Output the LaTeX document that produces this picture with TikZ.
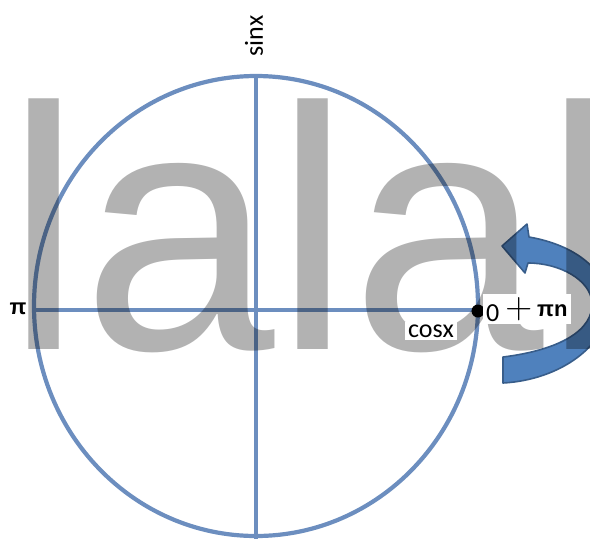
\documentclass[tikz,border=0pt]{standalone}
\usepackage{fontspec}
\usepackage{graphicx}
\setmainfont{Carlito}
\newfontfamily\wmfont{Liberation Sans}
\definecolor{axisblue}{HTML}{6C8EBF}
\definecolor{arrowfill}{HTML}{4F81BD}
\definecolor{arrowline}{HTML}{385D8A}
\usetikzlibrary{positioning}

\begin{document}
\begin{tikzpicture}[x=1pt,y=-1pt,
  axis/.style={draw=axisblue,line width=4.2pt},
  lbl/.style={inner sep=0pt,font=\fontsize{26}{30}\selectfont},
  grk/.style={inner sep=0pt,font=\wmfont\bfseries\fontsize{22}{26}\selectfont},
  wm/.style={inner sep=0pt,anchor=base west,text=black,text opacity=0.3,
    font=\wmfont\fontsize{346}{400}\selectfont}]
  \useasboundingbox (0,0) rectangle (590,539);
  % unit circle with both axes
  \draw[axis] (256,306) ellipse [x radius=222,y radius=230];
  \coordinate (ytop) at (256,76);
  \coordinate (ybot) at (256,539);
  \coordinate (xleft) at (35,310);
  \coordinate (xright) at (478,310);
  \draw[axis] (ytop) -- (ybot);
  \draw[axis] (xleft) -- (xright);
  % turning arrow on the right
  \draw[fill=arrowfill,draw=arrowline,line width=1.6pt,line join=round]
    (502,246) -- (527,224) -- (529,237)
    .. controls (575,245) and (608,270) .. (608,305)
    .. controls (608,345) and (560,380) .. (503,383)
    -- (503,357)
    .. controls (560,350) and (594,330) .. (592,302)
    .. controls (590,280) and (560,263) .. (528,263)
    -- (525,273) -- cycle;
  % grey lettering laid over it
  \node[wm] (wmtext) at (5,349) {lalal};
  % labels
  \node[lbl,rotate=90] (sinlbl) at (254,36) {sinx};
  \node[grk] (pilbl) at (18,309) {π};
  \node[lbl,fill=white,inner xsep=3pt,inner ysep=3pt] (coslbl) at (431,331) {cosx};
  \node[circle,fill=black,inner sep=0pt,minimum size=13pt] (dot) at (478,311) {};
  \node[lbl,fill=white,inner sep=3pt,anchor=base west] (periodlbl) at (483,321)
    {0\hspace{6pt}\raisebox{3pt}{\scalebox{1.5}{$+$}}\hspace{5pt}\raisebox{5pt}{\wmfont\bfseries\fontsize{22}{26}\selectfont πn}};
\end{tikzpicture}
\end{document}
